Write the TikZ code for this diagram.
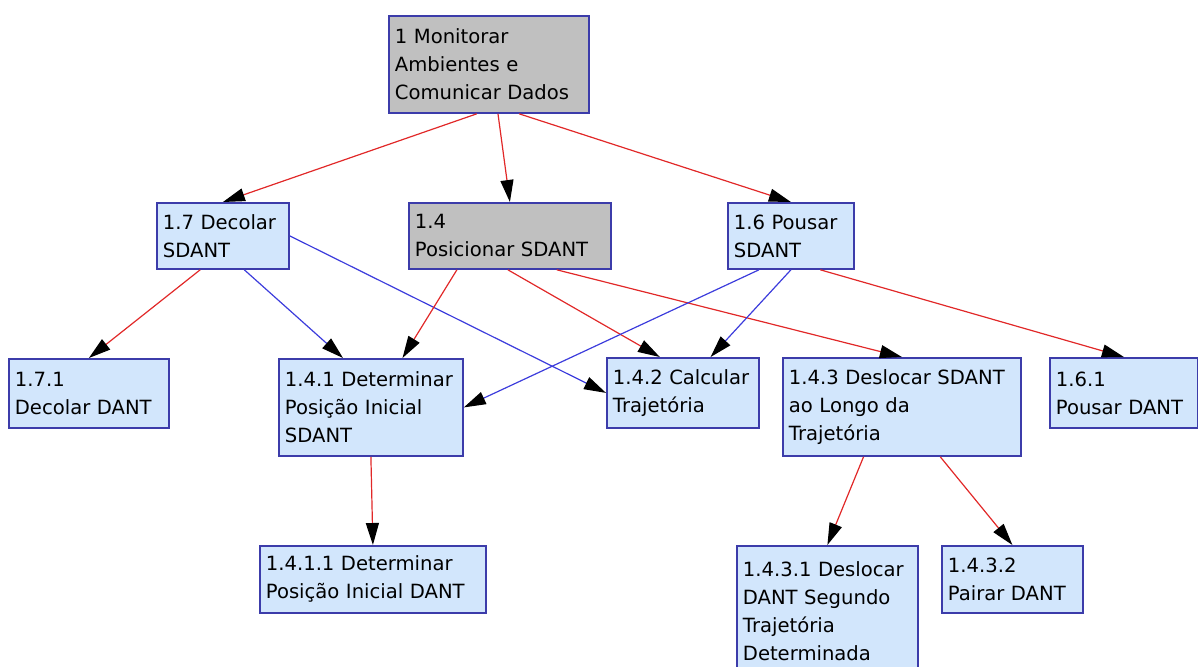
\documentclass[tikz,border=0pt]{standalone}
\usepackage{fontspec}
\setmainfont{DejaVu Sans}
\usetikzlibrary{arrows.meta,calc}
\definecolor{boxline}{RGB}{60,60,170}
\definecolor{boxblue}{RGB}{210,230,252}
\definecolor{boxgray}{RGB}{192,192,192}
\definecolor{linkred}{RGB}{225,40,40}
\definecolor{linkblue}{RGB}{60,60,220}
\begin{document}
\begin{tikzpicture}[x=0.5pt,y=-0.5pt,>={Triangle[length=11pt,width=6.5pt,color=black]}]
\tikzstyle{every node}=[draw=boxline,line width=0.9pt,fill=boxblue,rectangle,anchor=north west,align=left,inner xsep=3pt,font=\fontsize{9.8}{14}\selectfont]
\tikzstyle{red link}=[->,draw=linkred,line width=0.6pt]
\tikzstyle{blue link}=[->,draw=linkblue,line width=0.6pt]
\useasboundingbox (0,0) rectangle (1198,666);
\node[fill=boxgray,text width=94pt,minimum height=48.5pt](t1) at (388,15) {1 Monitorar\\Ambientes e\\Comunicar Dados};
\node[text width=60pt,minimum height=33pt](t17) at (156,202) {1.7 Decolar\\SDANT};
\node[fill=boxgray,text width=95pt,minimum height=33pt](t14) at (408,202) {1.4\\Posicionar SDANT};
\node[text width=57pt,minimum height=33pt](t16) at (727,202) {1.6 Pousar\\SDANT};
\node[text width=74pt,minimum height=34.5pt](t171) at (8,358) {1.7.1\\Decolar DANT};
\node[text width=86pt,minimum height=48.5pt](t141) at (278,358) {1.4.1 Determinar\\Posição Inicial\\SDANT};
\node[text width=70pt,minimum height=35pt](t142) at (606,357) {1.4.2 Calcular\\Trajetória};
\node[text width=113pt,minimum height=49pt](t143) at (782,357) {1.4.3 Deslocar SDANT\\ao Longo da\\Trajetória};
\node[text width=68pt,minimum height=35pt](t161) at (1049,357) {1.6.1\\Pousar DANT};
\node[text width=107pt,minimum height=33.5pt](t1411) at (259,545) {1.4.1.1 Determinar\\Posição Inicial DANT};
\node[text width=84.5pt,minimum height=65pt](t1431) at (736,545) {1.4.3.1 Deslocar\\DANT Segundo\\Trajetória\\Determinada};
\node[text width=64.5pt,minimum height=33.5pt](t1432) at (941,545) {1.4.3.2\\Pairar DANT};
% from the top task
\draw[red link] ($(t1.south west)!0.44!(t1.south east)$) -- (t17.north);
\draw[red link] ($(t1.south west)!0.545!(t1.south east)$) -- (t14.north);
\draw[red link] ($(t1.south west)!0.65!(t1.south east)$) -- (t16.north);
% second level
\draw[red link] ($(t17.south west)!0.33!(t17.south east)$) -- (t171.north);
\draw[blue link] ($(t17.south west)!0.66!(t17.south east)$) -- ($(t141.north west)!0.35!(t141.north east)$);
\draw[blue link] (t17.east) -- (t142.west);
\draw[red link] ($(t14.south west)!0.24!(t14.south east)$) -- ($(t141.north west)!0.67!(t141.north east)$);
\draw[red link] ($(t14.south west)!0.49!(t14.south east)$) -- ($(t142.north west)!0.35!(t142.north east)$);
\draw[red link] ($(t14.south west)!0.73!(t14.south east)$) -- (t143.north);
\draw[blue link] ($(t16.south west)!0.25!(t16.south east)$) -- (t141.east);
\draw[blue link] (t16.south) -- ($(t142.north west)!0.68!(t142.north east)$);
\draw[red link] ($(t16.south west)!0.73!(t16.south east)$) -- (t161.north);
% third level
\draw[red link] (t141.south) -- (t1411.north);
\draw[red link] ($(t143.south west)!0.34!(t143.south east)$) -- (t1431.north);
\draw[red link] ($(t143.south west)!0.66!(t143.south east)$) -- (t1432.north);
\end{tikzpicture}
\end{document}
